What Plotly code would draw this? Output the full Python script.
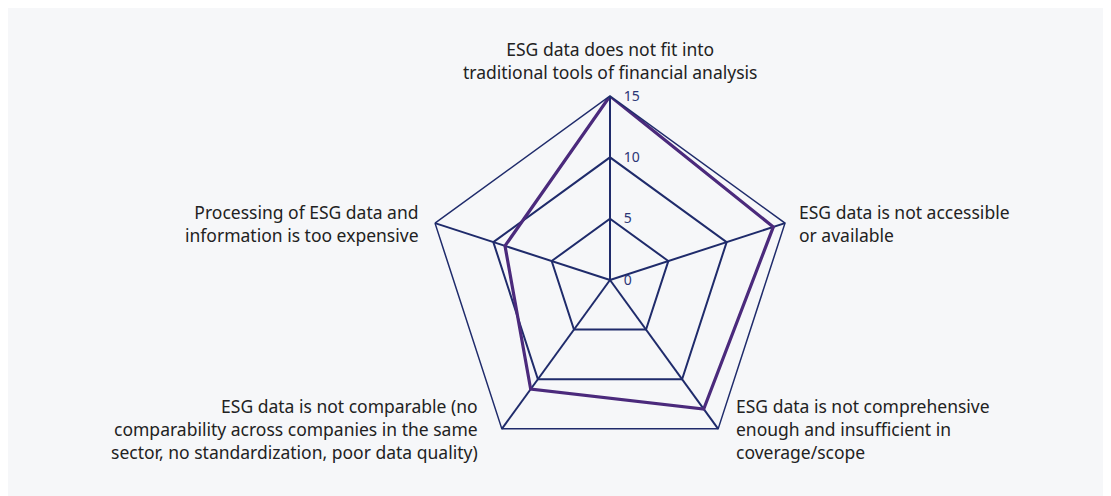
import math
import plotly.graph_objects as go

# survey categories (clockwise from top) and scores
categories = [
    "ESG data does not fit into<br>traditional tools of financial analysis",
    "ESG data is not accessible<br>or available",
    "ESG data is not comprehensive<br>enough and insufficient in<br>coverage/scope",
    "ESG data is not comparable (no<br>comparability across companies in the same<br>sector, no standardization, poor data quality)",
    "Processing of ESG data and<br>information is too expensive",
]
scores = [15, 14, 13, 11, 9]
radial_ticks = [0, 5, 10, 15]

navy = "#1f2b6b"
purple = "#4b2a7c"
panel = "#f6f7f9"

W, H = 1111, 496
cx, cy, rad = 602, 272, 184   # polar centre / radius in figure pixels

fig = go.Figure()
fig.add_trace(go.Scatterpolar(
    r=scores + scores[:1],
    theta=categories + categories[:1],
    mode="lines",
    line=dict(color=purple, width=3.2),
    showlegend=False,
    hoverinfo="skip",
))

# category labels placed just outside each polygon vertex
annotations = []
for k, label in enumerate(categories):
    ang = math.radians(90 - 72 * k)
    vx = cx + rad * math.cos(ang)
    vy = cy - rad * math.sin(ang)
    c, s = math.cos(ang), math.sin(ang)
    if abs(c) < 0.1:
        xa, al, ya, dx, dy = "center", "center", "bottom", 0, -10
    elif c > 0:
        xa, al, ya, dy = "left", "left", "middle", 0
        dx = 12 if s > 0 else 16
    else:
        xa, al, ya, dy = "right", "right", "middle", 0
        dx = -14 if s > 0 else -22
    annotations.append(dict(
        text=label, xref="paper", yref="paper",
        x=(vx + dx) / W, y=1 - (vy + dy) / H,
        xanchor=xa, yanchor=ya, align=al, showarrow=False,
        font=dict(family="Noto Sans", size=17.5, color="#222222"),
    ))

fig.update_layout(
    width=W, height=H, autosize=False,
    margin=dict(l=0, r=0, t=0, b=0),
    paper_bgcolor=panel,
    plot_bgcolor=panel,
    font=dict(family="Noto Sans", size=16, color="#222222"),
    annotations=annotations,
    polar=dict(
        domain=dict(x=[(cx - rad) / W, (cx + rad) / W],
                    y=[1 - (cy + rad) / H, 1 - (cy - rad) / H]),
        bgcolor=panel,
        gridshape="linear",
        radialaxis=dict(
            range=[0, 15], tickvals=radial_ticks, angle=90, tickangle=90,
            showline=True, linecolor=navy, linewidth=2,
            gridcolor=navy, gridwidth=1.5,
            ticks="outside", ticklen=10, tickcolor="rgba(0,0,0,0)",
            tickfont=dict(family="Noto Sans", size=14, color="#2b3576"),
        ),
        angularaxis=dict(
            rotation=90, direction="clockwise",
            showline=True, linecolor=navy, linewidth=1.5,
            gridcolor=navy, gridwidth=1.5, ticks="",
            showticklabels=False,
        ),
    ),
)

fig.write_html("out.html")
